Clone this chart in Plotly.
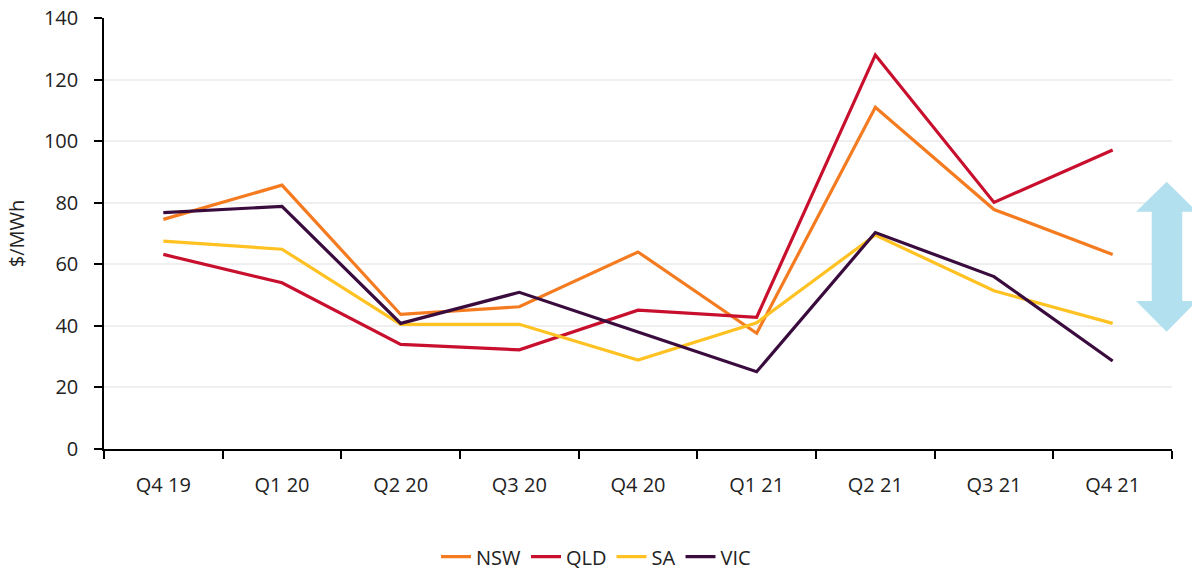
import plotly.graph_objects as go

categories = ["Q4 19", "Q1 20", "Q2 20", "Q3 20", "Q4 20", "Q1 21", "Q2 21", "Q3 21", "Q4 21"]
nsw = [74.6, 85.7, 43.7, 46.2, 64.0, 37.6, 111.0, 77.8, 63.2]
qld = [63.2, 54.0, 34.0, 32.2, 45.1, 42.8, 128.0, 80.1, 97.1]
sa = [67.5, 64.9, 40.5, 40.5, 28.9, 41.0, 69.5, 51.4, 40.8]
vic = [76.8, 78.8, 40.8, 50.9, 38.0, 25.1, 70.3, 56.0, 28.6]

series = [
    ("NSW", nsw, "#F47B20"),
    ("QLD", qld, "#C8102E"),
    ("SA", sa, "#FFC222"),
    ("VIC", vic, "#3A0C3E"),
]

fig = go.Figure()
for name, vals, col in series:
    fig.add_trace(go.Scatter(x=categories, y=vals, name=name, mode="lines",
                             line=dict(color=col, width=3.2)))

# light blue double arrow at right
fig.add_shape(type="path", xref="paper", yref="y",
              path="M 0.9950 86.8 L 1.0234 77.1 L 1.0096 77.1 L 1.0096 48.1 L 1.0234 48.1 "
                   "L 0.9950 38.1 L 0.9663 48.1 L 0.9810 48.1 L 0.9810 77.1 L 0.9663 77.1 Z",
              fillcolor="#B3E0EE", line=dict(width=0), layer="above")

font = "Open Sans, Noto Sans, sans-serif"
fig.update_layout(
    width=1192, height=571,
    margin=dict(l=104, r=20, t=18, b=122),
    plot_bgcolor="white", paper_bgcolor="white",
    font=dict(family=font, size=20, color="#222222"),
    showlegend=True,
    legend=dict(orientation="h", x=0.5, xanchor="center", xref="container",
                y=0.025, yanchor="middle", yref="container",
                font=dict(size=20), traceorder="normal"),
    xaxis=dict(type="category", range=[-0.5, 8.5], showline=True, linecolor="black",
               linewidth=1.5, ticks="outside", tickson="boundaries", ticklen=8,
               tickcolor="black", tickwidth=1.5, showgrid=False, ticklabelstandoff=17,
               tickfont=dict(size=20), automargin=False),
    yaxis=dict(range=[0, 140], dtick=20, showline=True, linecolor="black", linewidth=1.5,
               ticks="outside", ticklen=8, tickcolor="black", tickwidth=1.5, showgrid=True,
               gridcolor="#EFEFEF", gridwidth=1.5, zeroline=False,
               ticklabelstandoff=12, tickfont=dict(size=20), automargin=False,
               title=dict(text="$/MWh", font=dict(size=20), standoff=14)),
)

fig.write_html("out.html", config={"displayModeBar": False},
               post_script="document.body.style.margin='0';document.body.style.overflow='hidden';")
